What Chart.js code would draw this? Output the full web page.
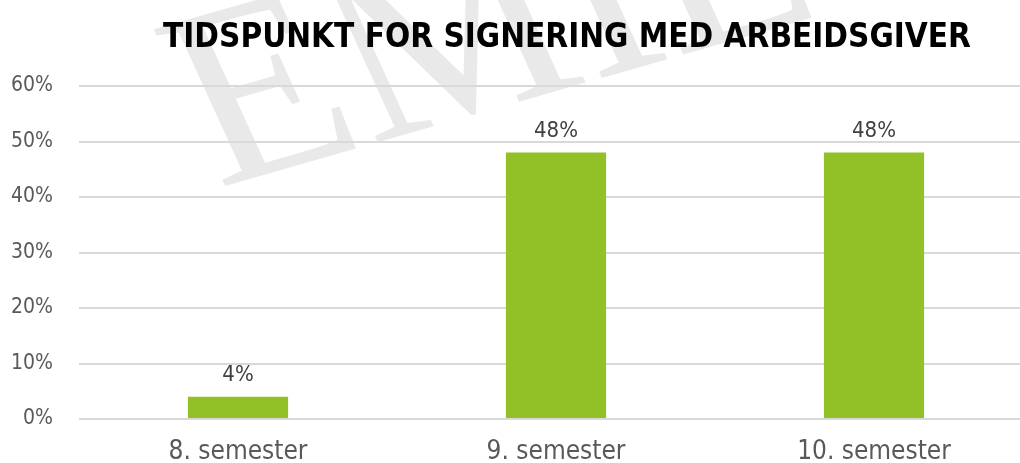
<!DOCTYPE html>
<html>
<head>
<meta charset="utf-8">
<script src="https://cdn.jsdelivr.net/npm/chart.js@4.4.1/dist/chart.umd.min.js"></script>
<style>
  html, body { margin: 0; padding: 0; background: #fff; overflow: hidden; }
  #wrap { width: 1040px; height: 463px; }
</style>
</head>
<body>
<div id="wrap"><canvas id="chart" width="1040" height="463"></canvas></div>
<script>
const categories = ['8. semester', '9. semester', '10. semester'];
const shares = [4, 48, 48];
const yTicks = [0, 10, 20, 30, 40, 50, 60];
const chartTitle = 'TIDSPUNKT FOR SIGNERING MED ARBEIDSGIVER';

const FONT = "'DejaVu Sans Condensed', 'DejaVu Sans', sans-serif";

// faint watermark behind the plot, title on top
const backdrop = {
  id: 'backdrop',
  beforeDraw(chart) {
    const ctx = chart.ctx;
    ctx.save();
    ctx.fillStyle = '#ffffff';
    ctx.fillRect(0, 0, chart.width, chart.height);
    ctx.translate(218, 188);
    ctx.rotate(-16 * Math.PI / 180);
    ctx.transform(1, 0, 0.15, 1, 0, 0);
    ctx.fillStyle = '#e9e9e9';
    ctx.font = "260px 'Liberation Serif', serif";
    ctx.textBaseline = 'alphabetic';
    ctx.fillText('EMIL', 0, 0);
    ctx.restore();
  },
  afterDraw(chart) {
    const ctx = chart.ctx;
    ctx.save();
    ctx.fillStyle = '#000000';
    ctx.font = "bold 33px " + FONT;
    ctx.textAlign = 'center';
    ctx.textBaseline = 'alphabetic';
    ctx.fillText(chartTitle, 567, 47);
    ctx.restore();
  }
};

const valueLabels = {
  id: 'valueLabels',
  afterDatasetsDraw(chart) {
    const ctx = chart.ctx;
    const meta = chart.getDatasetMeta(0);
    ctx.save();
    ctx.fillStyle = '#404040';
    ctx.font = "22px " + FONT;
    ctx.textAlign = 'center';
    ctx.textBaseline = 'alphabetic';
    meta.data.forEach((bar, i) => {
      ctx.fillText(shares[i] + '%', bar.x, bar.y - 16);
    });
    ctx.restore();
  }
};

new Chart(document.getElementById('chart').getContext('2d'), {
  type: 'bar',
  data: {
    labels: categories,
    datasets: [{
      data: shares,
      backgroundColor: '#92c127',
      borderWidth: 0,
      categoryPercentage: 1,
      barPercentage: 0.315
    }]
  },
  options: {
    responsive: false,
    animation: false,
    layout: { padding: { top: 86, right: 7, left: 0, bottom: 0 } },
    plugins: {
      legend: { display: false },
      tooltip: { enabled: false },
      title: { display: false }
    },
    scales: {
      x: {
        grid: { display: false },
        border: { display: false },
        ticks: { color: '#595959', font: { family: FONT, size: 26 }, padding: 10 },
        afterFit(scale) { scale.height = 44; }
      },
      y: {
        min: 0,
        max: 60,
        afterBuildTicks(scale) { scale.ticks = yTicks.map(v => ({ value: v })); },
        grid: { color: '#d9d9d9', lineWidth: 2, drawTicks: false },
        border: { display: false },
        ticks: {
          color: '#595959',
          font: { family: FONT, size: 21 },
          padding: 26,
          callback: v => v + '%'
        },
        afterFit(scale) { scale.width = 79; }
      }
    }
  },
  plugins: [backdrop, valueLabels]
});
</script>
</body>
</html>
